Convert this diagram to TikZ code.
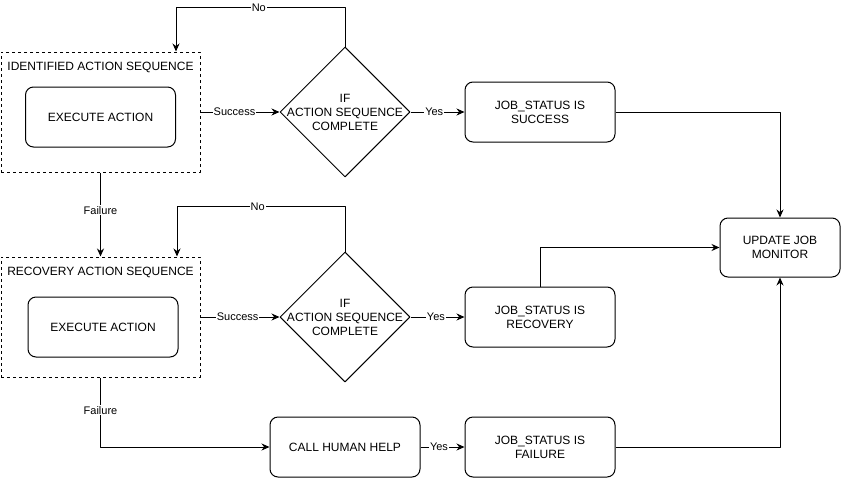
\documentclass[tikz,border=0pt]{standalone}
\usepackage{fontspec}
\setmainfont{Liberation Sans}
\usetikzlibrary{arrows.meta,shapes.geometric}

\begin{document}
\begin{tikzpicture}[
  x=1pt,
  y=-1pt,
  line join=round,
  every node/.style={font=\fontsize{12}{14}\selectfont},
  actionbox/.style={draw,line width=1pt,rounded corners=8pt,minimum width=150pt,minimum height=60pt,align=center,inner sep=0pt},
  seqbox/.style={draw,line width=1pt,dash pattern=on 3pt off 3pt,minimum width=199pt,minimum height=120pt,inner sep=0pt},
  decision/.style={draw,line width=1pt,diamond,minimum width=130pt,minimum height=130pt,inner sep=0pt},
  flow/.style={draw,line width=1pt,-{Stealth[length=8pt,width=7pt]}},
  link/.style={draw,line width=1pt},
  edgelabel/.style={fill=white,inner sep=1pt,font=\fontsize{11}{13}\selectfont}
]
  % Keep the original canvas size.
  \useasboundingbox (0,0) rectangle (842,479);

  % Identified action sequence and its completion check.
  \node[seqbox] (seqIdent) at (100.5,112) {};
  \node (seqIdentTitle) at (100.5,67) {IDENTIFIED ACTION SEQUENCE};
  \node[actionbox] (execIdent) at (100.5,117) {EXECUTE ACTION};
  \node[decision,label={[align=center,font=\fontsize{12}{14}\selectfont]center:IF\\ACTION SEQUENCE\\COMPLETE}] (checkIdent) at (345,112) {};
  \node[actionbox] (jobSuccess) at (540,112) {JOB\_STATUS IS\\SUCCESS};

  % Recovery action sequence and its completion check.
  \node[seqbox] (seqRecov) at (100.5,317) {};
  \node (seqRecovTitle) at (100.5,272) {RECOVERY ACTION SEQUENCE};
  \node[actionbox] (execRecov) at (103,327) {EXECUTE ACTION};
  \node[decision,label={[align=center,font=\fontsize{12}{14}\selectfont]center:IF\\ACTION SEQUENCE\\COMPLETE}] (checkRecov) at (345,317) {};
  \node[actionbox] (jobRecovery) at (540,317) {JOB\_STATUS IS\\RECOVERY};

  % Fallback path and the job monitor.
  \node[actionbox] (humanHelp) at (345,447) {CALL HUMAN HELP};
  \node[actionbox] (jobFailure) at (540,447) {JOB\_STATUS IS\\FAILURE};
  \node[actionbox,minimum width=120pt,minimum height=59pt] (jobMonitor) at (780,247.5) {UPDATE JOB\\MONITOR};

  % Connectors of the identified sequence.
  \draw[flow] (seqIdent.east) -- node[edgelabel,pos=0.43] {Success} (checkIdent.west);
  \draw[flow] (checkIdent.east) -- node[edgelabel,pos=0.44] {Yes} (jobSuccess.west);
  \draw[flow] (checkIdent.north) -- ++(0,-39) -| node[edgelabel,pos=0.255] {No} ([xshift=75.5pt]seqIdent.north);
  \draw[flow] (seqIdent.south) -- node[edgelabel,pos=0.45] {Failure} (seqRecov.north);
  \draw[flow] (jobSuccess.east) -| (jobMonitor.north);

  % Connectors of the recovery sequence.
  \draw[flow] (seqRecov.east) -- node[edgelabel,pos=0.47] {Success} (checkRecov.west);
  \draw[flow] (checkRecov.east) -- node[edgelabel,pos=0.47] {Yes} (jobRecovery.west);
  \draw[flow] (checkRecov.north) -- ++(0,-45) -| node[edgelabel,pos=0.26] {No} ([xshift=76.5pt]seqRecov.north);
  \draw[flow] (seqRecov.south) |- node[edgelabel,pos=0.235] {Failure} (humanHelp.west);
  \draw[flow] (jobRecovery.north) |- (jobMonitor.west);

  % Connectors of the fallback path.
  \draw[flow] (humanHelp.east) -- node[edgelabel,pos=0.42] {Yes} (jobFailure.west);
  \draw[flow] (jobFailure.east) -| (jobMonitor.south);
\end{tikzpicture}
\end{document}
